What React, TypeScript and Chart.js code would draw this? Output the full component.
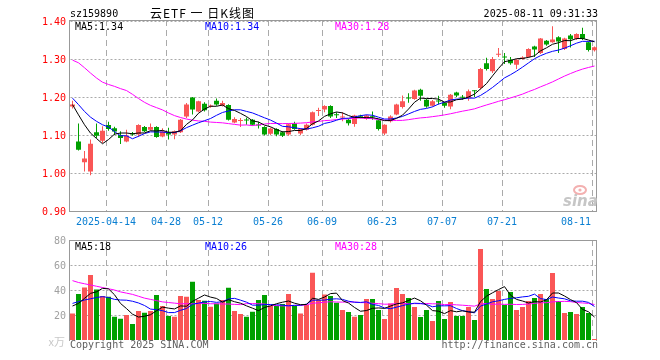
import { useEffect, useRef } from 'react';
import { Chart, registerables } from 'chart.js';

Chart.register(...registerables);

// ---------- data ----------
const dates = [
  '04-03', '04-07', '04-08', '04-09', '04-10', '04-11', '04-14', '04-15', '04-16', '04-17',
  '04-18', '04-21', '04-22', '04-23', '04-24', '04-25', '04-28', '04-29', '04-30', '05-06',
  '05-07', '05-08', '05-09', '05-12', '05-13', '05-14', '05-15', '05-16', '05-19', '05-20',
  '05-21', '05-22', '05-23', '05-26', '05-27', '05-28', '05-29', '05-30', '06-03', '06-04',
  '06-05', '06-06', '06-09', '06-10', '06-11', '06-12', '06-13', '06-16', '06-17', '06-18',
  '06-19', '06-20', '06-23', '06-24', '06-25', '06-26', '06-27', '06-30', '07-01', '07-02',
  '07-03', '07-04', '07-07', '07-08', '07-09', '07-10', '07-11', '07-14', '07-15', '07-16',
  '07-17', '07-18', '07-21', '07-22', '07-23', '07-24', '07-25', '07-28', '07-29', '07-30',
  '07-31', '08-01', '08-04', '08-05', '08-06', '08-07', '08-08', '08-11',
];

const opens = [
  1.175, 1.083, 1.028, 1.004, 1.107, 1.085, 1.126, 1.118, 1.100, 1.083,
  1.103, 1.101, 1.121, 1.114, 1.121, 1.096, 1.105, 1.101, 1.107, 1.149,
  1.199, 1.162, 1.182, 1.175, 1.190, 1.177, 1.179, 1.133, 1.137, 1.140,
  1.140, 1.127, 1.121, 1.103, 1.116, 1.107, 1.101, 1.130, 1.104, 1.114,
  1.127, 1.163, 1.167, 1.176, 1.154, 1.146, 1.140, 1.129, 1.150, 1.142,
  1.149, 1.139, 1.104, 1.136, 1.154, 1.174, 1.198, 1.195, 1.219, 1.193,
  1.177, 1.189, 1.184, 1.175, 1.212, 1.200, 1.197, 1.217, 1.224, 1.289,
  1.268, 1.311, 1.306, 1.298, 1.285, 1.300, 1.305, 1.333, 1.316, 1.348,
  1.344, 1.357, 1.326, 1.362, 1.353, 1.366, 1.344, 1.323,
];
const highs = [
  1.190, 1.130, 1.058, 1.088, 1.130, 1.123, 1.135, 1.122, 1.110, 1.114,
  1.108, 1.128, 1.124, 1.130, 1.123, 1.118, 1.119, 1.112, 1.142, 1.184,
  1.200, 1.190, 1.186, 1.180, 1.196, 1.190, 1.181, 1.147, 1.145, 1.146,
  1.142, 1.135, 1.123, 1.120, 1.118, 1.110, 1.130, 1.135, 1.118, 1.130,
  1.162, 1.172, 1.178, 1.178, 1.160, 1.160, 1.143, 1.153, 1.153, 1.153,
  1.162, 1.141, 1.128, 1.152, 1.182, 1.204, 1.210, 1.219, 1.222, 1.195,
  1.192, 1.203, 1.186, 1.208, 1.214, 1.205, 1.220, 1.218, 1.276, 1.303,
  1.305, 1.329, 1.316, 1.305, 1.300, 1.307, 1.328, 1.335, 1.355, 1.350,
  1.386, 1.360, 1.356, 1.366, 1.368, 1.382, 1.346, 1.333,
];
const lows = [
  1.170, 1.059, 1.004, 0.994, 1.092, 1.079, 1.111, 1.100, 1.076, 1.081,
  1.098, 1.095, 1.108, 1.112, 1.093, 1.094, 1.088, 1.089, 1.105, 1.145,
  1.154, 1.160, 1.162, 1.172, 1.177, 1.175, 1.138, 1.131, 1.121, 1.127,
  1.125, 1.117, 1.099, 1.100, 1.097, 1.095, 1.098, 1.114, 1.100, 1.112,
  1.125, 1.150, 1.160, 1.145, 1.145, 1.136, 1.125, 1.122, 1.144, 1.140,
  1.140, 1.112, 1.100, 1.133, 1.152, 1.170, 1.185, 1.193, 1.190, 1.172,
  1.175, 1.180, 1.172, 1.168, 1.200, 1.193, 1.190, 1.200, 1.220, 1.270,
  1.263, 1.305, 1.287, 1.285, 1.274, 1.298, 1.303, 1.305, 1.313, 1.335,
  1.343, 1.316, 1.324, 1.330, 1.350, 1.350, 1.320, 1.320,
];
const closes = [
  1.180, 1.061, 1.038, 1.077, 1.098, 1.111, 1.116, 1.109, 1.092, 1.098,
  1.101, 1.126, 1.110, 1.121, 1.095, 1.109, 1.101, 1.110, 1.140, 1.180,
  1.167, 1.189, 1.165, 1.177, 1.180, 1.184, 1.140, 1.142, 1.139, 1.138,
  1.127, 1.125, 1.101, 1.117, 1.101, 1.098, 1.128, 1.116, 1.116, 1.127,
  1.160, 1.166, 1.176, 1.149, 1.152, 1.148, 1.131, 1.151, 1.148, 1.151,
  1.147, 1.116, 1.127, 1.149, 1.180, 1.189, 1.196, 1.217, 1.203, 1.175,
  1.189, 1.188, 1.177, 1.206, 1.204, 1.198, 1.215, 1.215, 1.274, 1.274,
  1.300, 1.313, 1.304, 1.289, 1.298, 1.304, 1.326, 1.325, 1.354, 1.338,
  1.351, 1.346, 1.354, 1.352, 1.366, 1.353, 1.324, 1.331,
];
// volume, 万
const volumes = [
  21.3, 36.8, 42.1, 52.0, 40.5, 35.2, 34.7, 18.7, 17.1, 20.0,
  12.8, 23.2, 21.9, 23.2, 36.0, 27.2, 19.2, 18.7, 35.2, 34.7,
  46.7, 32.0, 31.5, 26.7, 29.3, 32.0, 41.9, 23.2, 20.8, 18.7,
  22.7, 32.0, 36.0, 27.2, 27.2, 28.8, 36.8, 27.2, 21.3, 28.0,
  53.9, 32.0, 36.5, 35.2, 29.9, 24.0, 22.4, 18.7, 20.0, 32.8,
  32.8, 24.0, 16.8, 29.3, 41.6, 36.8, 33.6, 26.4, 18.4, 24.0,
  15.2, 31.2, 16.8, 30.4, 19.2, 19.2, 26.4, 16.0, 72.8, 40.8,
  32.8, 39.2, 28.0, 38.4, 24.0, 26.4, 31.2, 33.6, 36.8, 32.8,
  53.6, 31.2, 21.6, 22.4, 20.8, 26.4, 21.6, 0.8,
];

// moving-average values before enough visible history exists
const ma5Lead = [1.18, 1.153, 1.127, 1.105];
const ma10Lead = [1.197, 1.18, 1.162, 1.147, 1.136, 1.127, 1.121, 1.109, 1.098];
const ma30Lead = [
  1.297, 1.29, 1.277, 1.263, 1.25, 1.239, 1.233, 1.228, 1.222, 1.217,
  1.207, 1.196, 1.186, 1.178, 1.172, 1.166, 1.158, 1.151, 1.146, 1.142,
  1.139, 1.137, 1.136, 1.134, 1.133, 1.132, 1.13, 1.128, 1.126,
];
const volMa5Lead = [27.2, 29.3, 33.3, 37.3];
const volMa10Lead = [29.3, 30.7, 32.0, 33.0, 34.0, 34.7, 34.0, 32.5, 32.0];
const volMa30Lead = [
  47.5, 46.0, 45.0, 44.0, 43.0, 42.0, 41.0, 40.0, 38.5, 37.5,
  36.5, 35.0, 33.5, 32.5, 31.5, 30.5, 30.0, 29.5, 29.0, 29.0,
  29.0, 29.3, 29.3, 29.0, 29.0, 28.8, 28.8, 28.5, 28.3,
];

const priceTicks = [1.4, 1.3, 1.2, 1.1, 1.0, 0.9];
const volTicks = [80, 60, 40, 20];
const tickDates = ['04-14', '04-28', '05-12', '05-26', '06-09', '06-23', '07-07', '07-21', '08-11'];
const tickLabels = ['2025-04-14', '04-28', '05-12', '05-26', '06-09', '06-23', '07-07', '07-21', '08-11'];

const priceLegend = ['MA5:1.34', 'MA10:1.34', 'MA30:1.28'];
const volLegend = ['MA5:18', 'MA10:26', 'MA30:28'];
const codeText = 'sz159890';
const titleText = '云ETF 一 日K线图';
const timeText = '2025-08-11 09:31:33';

// ---------- styles ----------
const UP = '#fa5656';
const DOWN = '#00a000';
const MA_COLORS = ['#000000', '#0000ff', '#ff00ff'];
const GRID = '#aaaaaa';
const BORDER = '#999999';
const MONO = '10px "DejaVu Sans Mono", "Liberation Mono", monospace';

function movingAverage(values: number[], n: number, lead: number[]) {
  return values.map((_, i) => {
    if (i < n - 1) return lead[i];
    let s = 0;
    for (let k = i - n + 1; k <= i; k++) s += values[k];
    return s / n;
  });
}

const candleColors = opens.map((o, i) => (closes[i] >= o ? UP : DOWN));

function lineDs(data: number[], color: string, order: number) {
  return {
    type: 'line' as const,
    data,
    borderColor: color,
    borderWidth: 1,
    pointRadius: 0,
    tension: 0,
    fill: false,
    order,
  };
}

function hLine(ctx: CanvasRenderingContext2D, x1: number, x2: number, y: number) {
  ctx.beginPath();
  ctx.moveTo(x1, y);
  ctx.lineTo(x2, y);
  ctx.stroke();
}
function vLine(ctx: CanvasRenderingContext2D, x: number, y1: number, y2: number) {
  ctx.beginPath();
  ctx.moveTo(x, y1);
  ctx.lineTo(x, y2);
  ctx.stroke();
}

function drawFrame(chart: any, ticks: number[], topPx: number, bottomPx: number, drawBottom: boolean) {
  const { ctx, chartArea: a, scales } = chart;
  const x = scales.x;
  const y = scales.y;
  ctx.save();
  ctx.lineWidth = 1;
  // horizontal dotted grid
  ctx.strokeStyle = GRID;
  ctx.setLineDash([2, 2]);
  ticks.forEach((v: number) => {
    const py = Math.round(y.getPixelForValue(v)) + 0.5;
    if (py <= topPx + 1 || py >= bottomPx - 1) return;
    hLine(ctx, a.left + 1, a.right, py);
  });
  // vertical dashed grid at tick dates
  ctx.setLineDash([6, 4]);
  tickDates.forEach((d) => {
    const idx = dates.indexOf(d);
    const px = Math.floor(x.getPixelForValue(idx) - 2) + 0.5;
    vLine(ctx, px, topPx, bottomPx);
  });
  // borders
  ctx.setLineDash([]);
  ctx.strokeStyle = BORDER;
  const left = Math.floor(a.left) + 1.5 - 1;
  const right = Math.floor(a.right) - 0.5;
  hLine(ctx, left, right, topPx + 0.5);
  if (drawBottom) hLine(ctx, left, right, bottomPx + 0.5);
  vLine(ctx, left, topPx, bottomPx + 1);
  vLine(ctx, right, topPx, bottomPx + 1);
  ctx.restore();
}

function drawLegend(ctx: CanvasRenderingContext2D, items: string[], baseline: number) {
  const xs = [75, 205, 335];
  ctx.font = MONO;
  ctx.textAlign = 'left';
  ctx.textBaseline = 'alphabetic';
  items.forEach((t, i) => {
    ctx.fillStyle = MA_COLORS[i];
    ctx.fillText(t, xs[i], baseline);
  });
}

const pricePlugin = {
  id: 'priceFrame',
  beforeDatasetsDraw(chart: any) {
    drawFrame(chart, priceTicks, 20, 211, true);
  },
  afterDraw(chart: any) {
    const { ctx, scales } = chart;
    const x = scales.x;
    const y = scales.y;
    ctx.save();
    // y labels
    ctx.font = MONO;
    ctx.fillStyle = '#ff0000';
    ctx.textAlign = 'right';
    ctx.textBaseline = 'alphabetic';
    priceTicks.forEach((v) => {
      const py = y.getPixelForValue(v);
      ctx.fillText(v.toFixed(2), 66, Math.round(py) + 4);
    });
    // x labels
    ctx.fillStyle = '#0a7fd2';
    ctx.textAlign = 'left';
    tickDates.forEach((d, i) => {
      const idx = dates.indexOf(d);
      const cx = Math.floor(x.getPixelForValue(idx) - 2);
      const w = ctx.measureText(tickLabels[i]).width;
      let lx = cx - w / 2;
      if (lx + w > 591) lx = 591 - w;
      ctx.fillText(tickLabels[i], lx, 225);
    });
    // header
    ctx.fillStyle = '#000';
    ctx.fillText(codeText, 70, 17);
    ctx.textAlign = 'right';
    ctx.fillText(timeText, 598, 17);
    ctx.textAlign = 'left';
    ctx.font = '12px "Noto Sans CJK SC", sans-serif';
    (ctx as any).letterSpacing = '1px';
    ctx.fillText(titleText, 150, 18);
    (ctx as any).letterSpacing = '0px';
    drawLegend(ctx, priceLegend, 30);
    // sina watermark
    ctx.strokeStyle = '#f3b0b0';
    ctx.lineWidth = 2;
    ctx.beginPath();
    ctx.ellipse(580, 190, 6, 4, 0, 0, Math.PI * 2);
    ctx.stroke();
    ctx.fillStyle = '#f3b0b0';
    ctx.beginPath();
    ctx.arc(580, 190, 1.6, 0, Math.PI * 2);
    ctx.fill();
    ctx.font = 'italic bold 15px "DejaVu Sans", sans-serif';
    ctx.fillStyle = '#c6c6c6';
    ctx.fillText('sina', 563, 206);
    ctx.restore();
  },
};

const volPlugin = {
  id: 'volFrame',
  beforeDatasetsDraw(chart: any) {
    drawFrame(chart, volTicks, 10, 110, false);
  },
  afterDraw(chart: any) {
    const { ctx, scales } = chart;
    const y = scales.y;
    ctx.save();
    ctx.font = MONO;
    ctx.fillStyle = '#a0a0a0';
    ctx.textAlign = 'right';
    ctx.textBaseline = 'alphabetic';
    volTicks.forEach((v) => {
      const py = y.getPixelForValue(v);
      ctx.fillText(String(v), 66, Math.round(py) + 4);
    });
    ctx.font = '11px "Noto Sans CJK SC", sans-serif';
    ctx.fillStyle = '#c8c8c8';
    ctx.fillText('x万', 65, 116);
    drawLegend(ctx, volLegend, 20);
    ctx.font = MONO;
    ctx.fillStyle = '#606060';
    ctx.textAlign = 'left';
    ctx.fillText('Copyright 2025 SINA.COM', 70, 118);
    ctx.textAlign = 'right';
    ctx.fillText('http://finance.sina.com.cn', 598, 118);
    ctx.restore();
  },
};

const baseOptions = (yMin: number, yMax: number, padTop: number, padBottom: number) => ({
  responsive: false,
  animation: false as const,
  devicePixelRatio: 1,
  events: [] as any[],
  layout: { padding: { left: 69.5, right: 62.5, top: padTop, bottom: padBottom } },
  plugins: { legend: { display: false }, tooltip: { enabled: false } },
  scales: {
    x: { type: 'category' as const, display: false, offset: true, grid: { display: false } },
    y: { display: false, min: yMin, max: yMax, grid: { display: false } },
  },
});

export default function App() {
  const priceRef = useRef<HTMLCanvasElement>(null);
  const volRef = useRef<HTMLCanvasElement>(null);

  useEffect(() => {
    const ma5 = movingAverage(closes, 5, ma5Lead);
    const ma10 = movingAverage(closes, 10, ma10Lead);
    const ma30 = movingAverage(closes, 30, ma30Lead);
    const vma5 = movingAverage(volumes, 5, volMa5Lead);
    const vma10 = movingAverage(volumes, 10, volMa10Lead);
    const vma30 = movingAverage(volumes, 30, volMa30Lead);

    const priceChart = new Chart(priceRef.current as HTMLCanvasElement, {
      type: 'bar',
      data: {
        labels: dates,
        datasets: [
          lineDs(ma5, MA_COLORS[0], 0),
          lineDs(ma10, MA_COLORS[1], 1),
          lineDs(ma30, MA_COLORS[2], 2),
          {
            type: 'bar',
            data: opens.map((o, i) => [Math.min(o, closes[i]), Math.max(o, closes[i])]),
            backgroundColor: candleColors,
            borderWidth: 0,
            barThickness: 5,
            minBarLength: 1,
            grouped: false,
            inflateAmount: 0,
            order: 3,
          } as any,
          {
            type: 'bar',
            data: lows.map((l, i) => [l, highs[i]]),
            backgroundColor: candleColors,
            borderWidth: 0,
            barThickness: 1,
            minBarLength: 1,
            grouped: false,
            inflateAmount: 0,
            order: 4,
          } as any,
        ],
      },
      options: baseOptions(0.9, 1.4, 21, 19) as any,
      plugins: [pricePlugin],
    });

    const volChart = new Chart(volRef.current as HTMLCanvasElement, {
      type: 'bar',
      data: {
        labels: dates,
        datasets: [
          lineDs(vma5, MA_COLORS[0], 0),
          lineDs(vma10, MA_COLORS[1], 1),
          lineDs(vma30, MA_COLORS[2], 2),
          {
            type: 'bar',
            data: volumes,
            backgroundColor: candleColors,
            borderWidth: 0,
            barThickness: 5,
            minBarLength: 1,
            grouped: false,
            inflateAmount: 0,
            order: 3,
          } as any,
        ],
      },
      options: baseOptions(0, 80, 10, 20) as any,
      plugins: [volPlugin],
    });

    return () => {
      priceChart.destroy();
      volChart.destroy();
    };
  }, []);

  return (
    <div style={{ position: 'absolute', left: 0, top: 0, width: 660, height: 360, background: '#fff' }}>
      <canvas
        ref={priceRef}
        width={660}
        height={230}
        style={{ position: 'absolute', left: 0, top: 0, width: 660, height: 230 }}
      />
      <canvas
        ref={volRef}
        width={660}
        height={130}
        style={{ position: 'absolute', left: 0, top: 230, width: 660, height: 130 }}
      />
    </div>
  );
}
